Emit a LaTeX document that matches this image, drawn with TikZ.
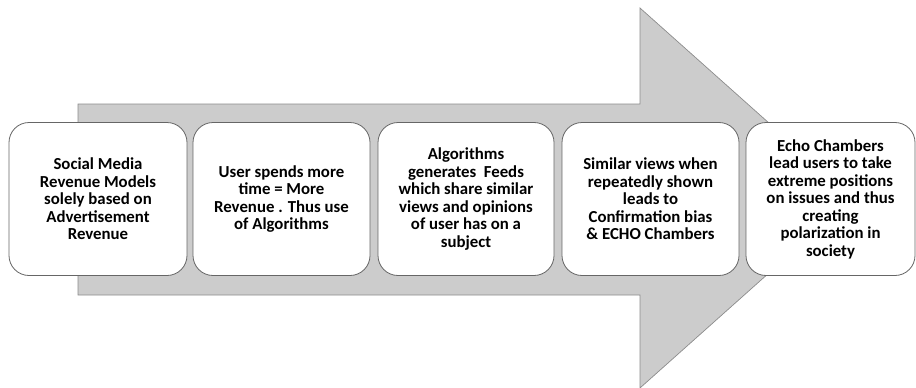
\documentclass[tikz,border=0pt]{standalone}
\usepackage{fontspec}
\setmainfont{Carlito}
\begin{document}
\begin{tikzpicture}[x=1pt,y=-1pt,
  stepbox/.style={draw=black!60, line width=0.8pt, fill=white,
    rounded corners=20pt, minimum height=153pt, align=center,
    font=\bfseries\fontsize{16.8}{17.5}\selectfont, inner sep=2pt},
  bigarrow/.style={draw=black!45, line width=0.7pt, fill=black!20}]
\useasboundingbox (0,0) rectangle (916,388);
% background arrow
\path[bigarrow] (78,104) -- (640,104) -- (640,8) -- (853,198)
  -- (640,388) -- (640,295) -- (78,295) -- cycle;
% process steps
\node[stepbox, minimum width=178pt] (s1) at (98,199)
  {Social Media\\Revenue Models\\solely based on\\Advertisement\\Revenue};
\node[stepbox, minimum width=177pt] (s2) at (281.5,199)
  {User spends more\\time = More\\Revenue . Thus use\\of Algorithms};
\node[stepbox, minimum width=176pt] (s3) at (466,199)
  {Algorithms\\generates~ Feeds\\which share similar\\views and opinions\\of user has on a\\subject};
\node[stepbox, minimum width=177pt] (s4) at (650.5,199)
  {Similar views when\\repeatedly shown\\leads to\\Confirmation bias\\\& ECHO Chambers};
\node[stepbox, minimum width=169pt] (s5) at (830.5,199)
  {Echo Chambers\\lead users to take\\extreme positions\\on issues and thus\\creating\\polarization in\\society};
\end{tikzpicture}
\end{document}
